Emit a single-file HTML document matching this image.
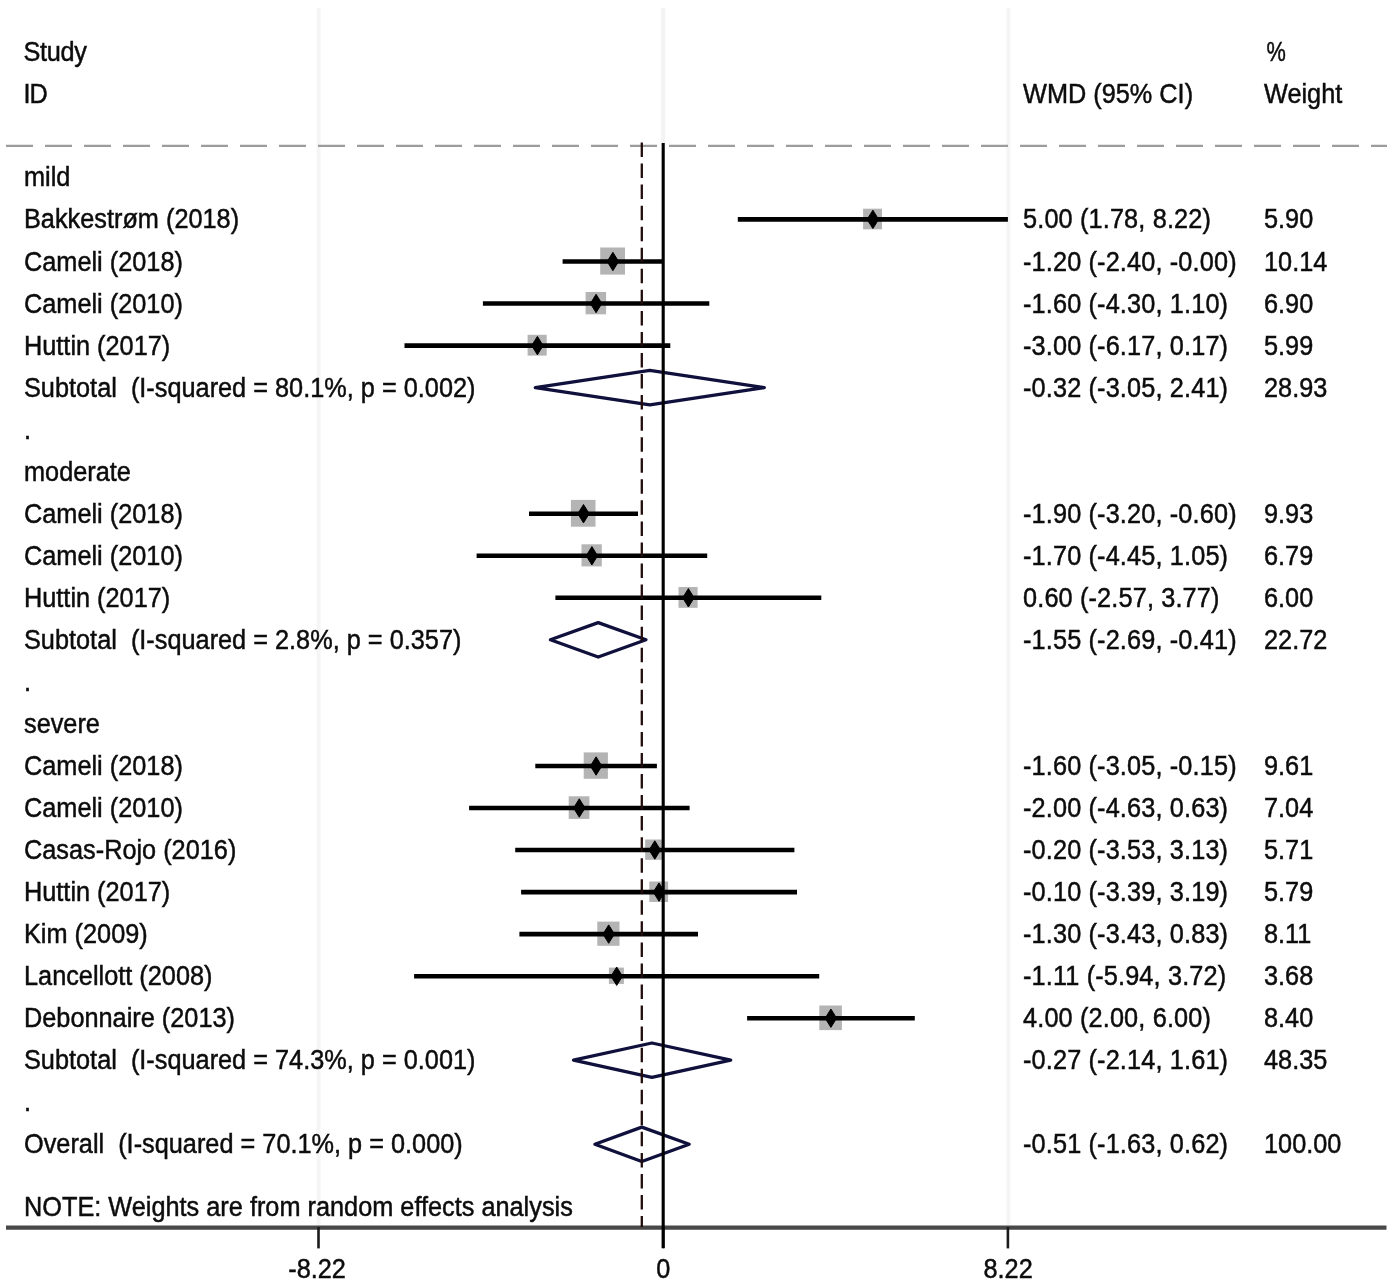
<!DOCTYPE html>
<html lang="en"><head><meta charset="utf-8"><title>Forest plot</title>
<style>
html,body{margin:0;padding:0;background:#fff;}
body{width:1395px;height:1287px;overflow:hidden;}
svg{display:block;filter:blur(0.55px);}
text{font-family:"Liberation Sans",Arial,Helvetica,sans-serif;font-size:25.30px;fill:#0c0c0c;stroke:#0c0c0c;stroke-width:0.45px;}
.ci{stroke:#000;stroke-width:4.6;}
.c{letter-spacing:0.14px;}
.bx{fill:#b4b4b4;}
.pt{fill:#000;stroke:#000;stroke-width:1;stroke-linejoin:round;}
.dm{fill:none;stroke:#10103c;stroke-width:3.3;stroke-linejoin:round;}
</style></head><body>
<svg width="1395" height="1287" viewBox="0 0 1395 1287">
<rect x="0" y="0" width="1395" height="1287" fill="#ffffff"/>
<line x1="318.6" y1="8" x2="318.6" y2="1227" stroke="#f5f5f5" stroke-width="4"/>
<line x1="1008.4" y1="8" x2="1008.4" y2="1227" stroke="#f5f5f5" stroke-width="4"/>
<line x1="663.2" y1="8" x2="663.2" y2="143" stroke="#f3f3f3" stroke-width="4"/>
<line x1="6" y1="145.8" x2="1387" y2="145.8" stroke="#9c9c9c" stroke-width="2.3" stroke-dasharray="27 12"/>
<line x1="6" y1="1227.7" x2="1386.5" y2="1227.7" stroke="#484848" stroke-width="4.2"/>
<line x1="318.5" y1="1227" x2="318.5" y2="1248.4" stroke="#1a1a1a" stroke-width="2.6"/>
<line x1="663.2" y1="1227" x2="663.2" y2="1248.4" stroke="#1a1a1a" stroke-width="2.6"/>
<line x1="1007.9" y1="1227" x2="1007.9" y2="1248.4" stroke="#1a1a1a" stroke-width="2.6"/>
<text transform="translate(23.5 61.2) scale(1 1.120)" style="letter-spacing:-0.35px">Study</text>
<text transform="translate(23.5 103.2) scale(1 1.120)" style="letter-spacing:-1px">ID</text>
<text transform="translate(1023.0 103.2) scale(1 1.120)">WMD (95% CI)</text>
<text transform="translate(1266.6 61.2) scale(0.86 1.120)">%</text>
<text transform="translate(1264.0 103.2) scale(1 1.120)">Weight</text>
<text transform="translate(24.0 186.4) scale(1 1.120)">mild</text>
<rect class="bx" x="863.1" y="208.7" width="18.9" height="20.6"/>
<line class="ci" x1="737.8" y1="219.4" x2="1007.9" y2="219.4"/>
<polygon class="pt" points="867.1,219.4 872.9,210.2 878.6,219.4 872.9,228.6"/>
<text transform="translate(24.0 228.4) scale(1 1.120)">Bakkestrøm (2018)</text>
<text transform="translate(1023.0 228.4) scale(1 1.120)" class="c">5.00 (1.78, 8.22)</text>
<text transform="translate(1264.0 228.4) scale(1 1.120)">5.90</text>
<rect class="bx" x="600.2" y="247.5" width="24.8" height="27.1"/>
<line class="ci" x1="562.6" y1="261.5" x2="663.2" y2="261.5"/>
<polygon class="pt" points="607.2,261.5 612.9,252.3 618.6,261.5 612.9,270.7"/>
<text transform="translate(24.0 270.5) scale(1 1.120)">Cameli (2018)</text>
<text transform="translate(1023.0 270.5) scale(1 1.120)" class="c">-1.20 (-2.40, -0.00)</text>
<text transform="translate(1264.0 270.5) scale(1 1.120)">10.14</text>
<rect class="bx" x="585.6" y="292.0" width="20.5" height="22.3"/>
<line class="ci" x1="482.9" y1="303.5" x2="709.3" y2="303.5"/>
<polygon class="pt" points="590.4,303.5 596.1,294.3 601.8,303.5 596.1,312.7"/>
<text transform="translate(24.0 312.5) scale(1 1.120)">Cameli (2010)</text>
<text transform="translate(1023.0 312.5) scale(1 1.120)" class="c">-1.60 (-4.30, 1.10)</text>
<text transform="translate(1264.0 312.5) scale(1 1.120)">6.90</text>
<rect class="bx" x="527.6" y="334.8" width="19.1" height="20.8"/>
<line class="ci" x1="404.5" y1="345.6" x2="670.3" y2="345.6"/>
<polygon class="pt" points="531.7,345.6 537.4,336.4 543.1,345.6 537.4,354.8"/>
<text transform="translate(24.0 354.6) scale(1 1.120)">Huttin (2017)</text>
<text transform="translate(1023.0 354.6) scale(1 1.120)" class="c">-3.00 (-6.17, 0.17)</text>
<text transform="translate(1264.0 354.6) scale(1 1.120)">5.99</text>
<polygon class="dm" points="535.3,387.6 649.8,370.4 764.3,387.6 649.8,404.8"/>
<text transform="translate(24.0 396.6) scale(1 1.120)" xml:space="preserve">Subtotal  (I-squared = 80.1%, p = 0.002)</text>
<text transform="translate(1023.0 396.6) scale(1 1.120)" class="c">-0.32 (-3.05, 2.41)</text>
<text transform="translate(1264.0 396.6) scale(1 1.120)">28.93</text>
<text transform="translate(24.0 438.6) scale(1 1.120)">.</text>
<text transform="translate(24.0 480.7) scale(1 1.120)">moderate</text>
<rect class="bx" x="570.9" y="499.9" width="24.6" height="26.8"/>
<line class="ci" x1="529.0" y1="513.7" x2="638.0" y2="513.7"/>
<polygon class="pt" points="577.8,513.7 583.5,504.5 589.2,513.7 583.5,522.9"/>
<text transform="translate(24.0 522.7) scale(1 1.120)">Cameli (2018)</text>
<text transform="translate(1023.0 522.7) scale(1 1.120)" class="c">-1.90 (-3.20, -0.60)</text>
<text transform="translate(1264.0 522.7) scale(1 1.120)">9.93</text>
<rect class="bx" x="581.5" y="544.3" width="20.3" height="22.1"/>
<line class="ci" x1="476.6" y1="555.8" x2="707.2" y2="555.8"/>
<polygon class="pt" points="586.2,555.8 591.9,546.6 597.6,555.8 591.9,565.0"/>
<text transform="translate(24.0 564.8) scale(1 1.120)">Cameli (2010)</text>
<text transform="translate(1023.0 564.8) scale(1 1.120)" class="c">-1.70 (-4.45, 1.05)</text>
<text transform="translate(1264.0 564.8) scale(1 1.120)">6.79</text>
<rect class="bx" x="678.5" y="587.0" width="19.1" height="20.8"/>
<line class="ci" x1="555.4" y1="597.8" x2="821.3" y2="597.8"/>
<polygon class="pt" points="682.7,597.8 688.4,588.6 694.1,597.8 688.4,607.0"/>
<text transform="translate(24.0 606.8) scale(1 1.120)">Huttin (2017)</text>
<text transform="translate(1023.0 606.8) scale(1 1.120)" class="c">0.60 (-2.57, 3.77)</text>
<text transform="translate(1264.0 606.8) scale(1 1.120)">6.00</text>
<polygon class="dm" points="550.4,639.8 598.2,622.6 646.0,639.8 598.2,657.0"/>
<text transform="translate(24.0 648.8) scale(1 1.120)" xml:space="preserve">Subtotal  (I-squared = 2.8%, p = 0.357)</text>
<text transform="translate(1023.0 648.8) scale(1 1.120)" class="c">-1.55 (-2.69, -0.41)</text>
<text transform="translate(1264.0 648.8) scale(1 1.120)">22.72</text>
<text transform="translate(24.0 690.9) scale(1 1.120)">.</text>
<text transform="translate(24.0 732.9) scale(1 1.120)">severe</text>
<rect class="bx" x="583.7" y="752.4" width="24.2" height="26.4"/>
<line class="ci" x1="535.3" y1="766.0" x2="656.9" y2="766.0"/>
<polygon class="pt" points="590.4,766.0 596.1,756.8 601.8,766.0 596.1,775.2"/>
<text transform="translate(24.0 775.0) scale(1 1.120)">Cameli (2018)</text>
<text transform="translate(1023.0 775.0) scale(1 1.120)" class="c">-1.60 (-3.05, -0.15)</text>
<text transform="translate(1264.0 775.0) scale(1 1.120)">9.61</text>
<rect class="bx" x="568.7" y="796.3" width="20.7" height="22.6"/>
<line class="ci" x1="469.1" y1="808.0" x2="689.6" y2="808.0"/>
<polygon class="pt" points="573.6,808.0 579.3,798.8 585.0,808.0 579.3,817.2"/>
<text transform="translate(24.0 817.0) scale(1 1.120)">Cameli (2010)</text>
<text transform="translate(1023.0 817.0) scale(1 1.120)" class="c">-2.00 (-4.63, 0.63)</text>
<text transform="translate(1264.0 817.0) scale(1 1.120)">7.04</text>
<rect class="bx" x="645.2" y="839.5" width="18.6" height="20.3"/>
<line class="ci" x1="515.2" y1="850.0" x2="794.4" y2="850.0"/>
<polygon class="pt" points="649.1,850.0 654.8,840.8 660.5,850.0 654.8,859.2"/>
<text transform="translate(24.0 859.0) scale(1 1.120)">Casas-Rojo (2016)</text>
<text transform="translate(1023.0 859.0) scale(1 1.120)" class="c">-0.20 (-3.53, 3.13)</text>
<text transform="translate(1264.0 859.0) scale(1 1.120)">5.71</text>
<rect class="bx" x="649.3" y="881.5" width="18.8" height="20.5"/>
<line class="ci" x1="521.1" y1="892.1" x2="797.0" y2="892.1"/>
<polygon class="pt" points="653.3,892.1 659.0,882.9 664.7,892.1 659.0,901.3"/>
<text transform="translate(24.0 901.1) scale(1 1.120)">Huttin (2017)</text>
<text transform="translate(1023.0 901.1) scale(1 1.120)" class="c">-0.10 (-3.39, 3.19)</text>
<text transform="translate(1264.0 901.1) scale(1 1.120)">5.79</text>
<rect class="bx" x="597.3" y="921.6" width="22.2" height="24.2"/>
<line class="ci" x1="519.4" y1="934.1" x2="698.0" y2="934.1"/>
<polygon class="pt" points="603.0,934.1 608.7,924.9 614.4,934.1 608.7,943.3"/>
<text transform="translate(24.0 943.1) scale(1 1.120)">Kim (2009)</text>
<text transform="translate(1023.0 943.1) scale(1 1.120)" class="c">-1.30 (-3.43, 0.83)</text>
<text transform="translate(1264.0 943.1) scale(1 1.120)">8.11</text>
<rect class="bx" x="608.9" y="967.6" width="15.0" height="16.3"/>
<line class="ci" x1="414.1" y1="976.2" x2="819.2" y2="976.2"/>
<polygon class="pt" points="611.0,976.2 616.7,967.0 622.4,976.2 616.7,985.4"/>
<text transform="translate(24.0 985.2) scale(1 1.120)">Lancellott (2008)</text>
<text transform="translate(1023.0 985.2) scale(1 1.120)" class="c">-1.11 (-5.94, 3.72)</text>
<text transform="translate(1264.0 985.2) scale(1 1.120)">3.68</text>
<rect class="bx" x="819.3" y="1005.5" width="22.6" height="24.6"/>
<line class="ci" x1="747.1" y1="1018.2" x2="914.8" y2="1018.2"/>
<polygon class="pt" points="825.2,1018.2 830.9,1009.0 836.6,1018.2 830.9,1027.4"/>
<text transform="translate(24.0 1027.2) scale(1 1.120)">Debonnaire (2013)</text>
<text transform="translate(1023.0 1027.2) scale(1 1.120)" class="c">4.00 (2.00, 6.00)</text>
<text transform="translate(1264.0 1027.2) scale(1 1.120)">8.40</text>
<polygon class="dm" points="573.5,1060.2 651.9,1043.0 730.7,1060.2 651.9,1077.4"/>
<text transform="translate(24.0 1069.2) scale(1 1.120)" xml:space="preserve">Subtotal  (I-squared = 74.3%, p = 0.001)</text>
<text transform="translate(1023.0 1069.2) scale(1 1.120)" class="c">-0.27 (-2.14, 1.61)</text>
<text transform="translate(1264.0 1069.2) scale(1 1.120)">48.35</text>
<text transform="translate(24.0 1111.3) scale(1 1.120)">.</text>
<polygon class="dm" points="594.9,1144.3 641.8,1127.1 689.2,1144.3 641.8,1161.5"/>
<text transform="translate(24.0 1153.3) scale(1 1.120)" xml:space="preserve">Overall  (I-squared = 70.1%, p = 0.000)</text>
<text transform="translate(1023.0 1153.3) scale(1 1.120)" class="c">-0.51 (-1.63, 0.62)</text>
<text transform="translate(1264.0 1153.3) scale(1 1.120)">100.00</text>
<line x1="641.8" y1="142.5" x2="641.8" y2="1227" stroke="#220c0c" stroke-width="2.3" stroke-dasharray="14.5 6.55"/>
<line x1="663.2" y1="143" x2="663.2" y2="1248" stroke="#000" stroke-width="3.1"/>
<text transform="translate(24.0 1216.3) scale(1 1.120)">NOTE: Weights are from random effects analysis</text>
<text transform="translate(317.1 1277.6) scale(1 1.120)" text-anchor="middle">-8.22</text>
<text transform="translate(663.4 1277.6) scale(1 1.120)" text-anchor="middle">0</text>
<text transform="translate(1008.1 1277.6) scale(1 1.120)" text-anchor="middle">8.22</text>
</svg></body></html>
